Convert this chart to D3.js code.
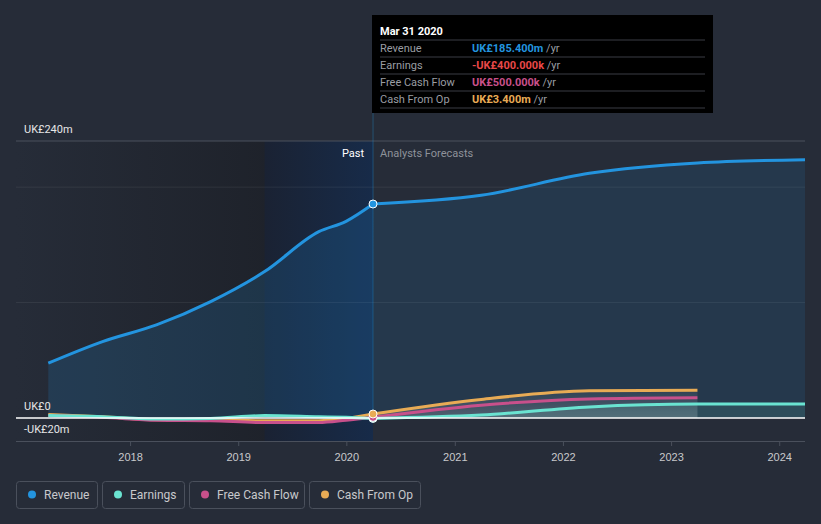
<!DOCTYPE html>
<html><head><meta charset="utf-8">
<script src="https://cdn.jsdelivr.net/npm/d3@7/dist/d3.min.js"></script>
<style>body{margin:0;background:#262c38;}svg{display:block;font-family:Roboto,"Noto Sans",sans-serif;}</style>
</head><body><svg id="c" width="821" height="524"></svg>
<script>
const revenueDates = ["2017-03-31","2017-09-30","2018-03-31","2018-09-30","2019-03-31","2019-09-30","2019-12-31","2020-03-31"];
const revenuePast = [47.4, 66.1, 80.6, 100.8, 126.8, 161.4, 170.4, 185.4];
const forecastDates = ["2020-03-31","2021-03-31","2022-03-31","2023-03-31","2024-03-31"];
const revenueForecast = [185.4, 193, 212, 221, 223.8];
const earningsPast = [2, 1, -1, -0.5, 2, 1, 0.5, -0.4];
const fcfPast = [2, 0.5, -2, -2.5, -4, -4, -2, 0.5];
const cfoPast = [3, 1, -1.5, -1.5, -2.5, -2.5, -0.5, 3.4];
const earningsForecast = [-0.4, 2.5, 9.5, 12, 12];
const fcfForecast = [0.5, 11, 16.5, 17.5];
const cfoForecast = [3.4, 16, 23.5, 24];
const yTicks = [240, 0, -20];
const yTickLabels = ["UK£240m", "UK£0", "-UK£20m"];
const xTickYears = [2018, 2019, 2020, 2021, 2022, 2023, 2024];
const seriesNames = ["Revenue", "Earnings", "Free Cash Flow", "Cash From Op"];
const seriesColors = ["#2394df", "#6ae3d1", "#c8508b", "#e8ab55"];
const tooltipValues = ["UK£185.400m", "-UK£400.000k", "UK£500.000k", "UK£3.400m"];
const tooltipValueColors = ["#2394df", "#e84848", "#c8508b", "#e8ab55"];

const P = d3.timeParse("%Y-%m-%d");
const svg = d3.select("#c");
const W = 821;
const x = d3.scaleTime().domain([P("2016-12-12"), P("2024-03-28")]).range([16, 805]);
const y = d3.scaleLinear().domain([-20, 240]).range([441, 141]);
const nowD = P("2020-03-31");
const xNow = x(nowD);
const xPastStart = x(P("2019-03-31"));

const defs = svg.append("defs");
const g1 = defs.append("linearGradient").attr("id","pastg").attr("x1","0").attr("x2","1").attr("y1","0").attr("y2","0");
g1.append("stop").attr("offset","0").attr("stop-color","#262c38");
g1.append("stop").attr("offset","1").attr("stop-color","#1b1e25");
const g2 = defs.append("linearGradient").attr("id","hlg").attr("x1","0").attr("x2","1").attr("y1","0").attr("y2","0");
g2.append("stop").attr("offset","0").attr("stop-color","#1a2233");
g2.append("stop").attr("offset","1").attr("stop-color","#172b49");
const g3 = defs.append("linearGradient").attr("id","smallg").attr("x1","0").attr("x2","0").attr("y1","0").attr("y2","1");
g3.append("stop").attr("offset","0").attr("stop-color","#ffffff").attr("stop-opacity",0.05);
g3.append("stop").attr("offset","1").attr("stop-color","#ffffff").attr("stop-opacity",0.2);
defs.append("clipPath").attr("id","clip").append("rect").attr("x",16).attr("y",100).attr("width",789).attr("height",341);

svg.append("rect").attr("width",W).attr("height",524).attr("fill","#262c38");
// past background
svg.append("rect").attr("x",16).attr("y",y(240)).attr("width",xNow-16).attr("height",y(-20)-y(240)).attr("fill","url(#pastg)");
svg.append("rect").attr("x",xPastStart).attr("y",y(240)).attr("width",xNow-xPastStart).attr("height",y(-20)-y(240)).attr("fill","url(#hlg)");

// gridlines
[240, 200, 100].forEach(v=>{
  svg.append("line").attr("x1",16).attr("x2",805).attr("y1",y(v)).attr("y2",y(v))
    .attr("stroke", v===240 ? "#4a505c" : "#ffffff").attr("stroke-opacity", v===240 ? 1 : 0.07).attr("stroke-width",1);
});

const plot = svg.append("g").attr("clip-path","url(#clip)");
const curve = d3.curveMonotoneX;
const pastPts = (vals)=>revenueDates.map((d,i)=>[P(d), vals[i]]);
const fcPts = (vals)=>vals.map((v,i)=>[P(forecastDates[i]), v]);
const line = d3.line().x(d=>x(d[0])).y(d=>y(d[1])).curve(curve);
const area = d3.area().x(d=>x(d[0])).y0(y(0)).y1(d=>y(d[1])).curve(curve);

// revenue areas
plot.append("path").datum(pastPts(revenuePast)).attr("d",area).attr("fill","#2394df").attr("fill-opacity",0.17);
plot.append("path").datum(fcPts(revenueForecast)).attr("d",area).attr("fill","#2394df").attr("fill-opacity",0.12);
// small series forecast areas
plot.append("path").datum(fcPts(cfoForecast)).attr("d",area).attr("fill","url(#smallg)");
plot.append("path").datum(fcPts(earningsForecast)).attr("d",area).attr("fill","#6ae3d1").attr("fill-opacity",0.12);

// vertical now line
svg.append("line").attr("x1",xNow).attr("x2",xNow).attr("y1",113).attr("y2",y(0)).attr("stroke","#2394df").attr("stroke-opacity",0.35);

// zero line and bottom axis
svg.append("line").attr("x1",16).attr("x2",805).attr("y1",y(0)).attr("y2",y(0)).attr("stroke","#ffffff").attr("stroke-width",1.5);
const xa = svg.append("g").attr("transform",`translate(0,${y(-20)})`)
  .call(d3.axisBottom(x).tickValues(xTickYears.map(yr=>new Date(yr,0,1))).tickFormat(d3.timeFormat("%Y")).tickSize(5).tickSizeOuter(0));
xa.select(".domain").attr("stroke","#4a505c").attr("d","M16,0.5H805");
xa.selectAll(".tick line").attr("stroke","#4a505c");
xa.selectAll(".tick text").attr("fill","#c8c9cc").attr("font-size",11).attr("dy","1.05em");

// lines
const lineSeries = [
  [pastPts(cfoPast), fcPts(cfoForecast), seriesColors[3]],
  [pastPts(fcfPast), fcPts(fcfForecast), seriesColors[2]],
  [pastPts(earningsPast), fcPts(earningsForecast), seriesColors[1]],
  [pastPts(revenuePast), fcPts(revenueForecast), seriesColors[0]]
];
lineSeries.forEach(([p,f,c])=>{
  plot.append("path").datum(p).attr("d",line).attr("fill","none").attr("stroke",c).attr("stroke-width",3);
  plot.append("path").datum(f).attr("d",line).attr("fill","none").attr("stroke",c).attr("stroke-width",3);
});

// dots at now
[[-0.4,seriesColors[1]],[0.5,seriesColors[2]],[3.4,seriesColors[3]],[185.4,seriesColors[0]]].forEach(([v,c])=>{
  svg.append("circle").attr("cx",xNow).attr("cy",y(v)).attr("r",4).attr("fill",c).attr("stroke","#ffffff").attr("stroke-width",1);
});

// y labels
yTicks.forEach((v,i)=>{
  svg.append("text").attr("x",24).attr("y",y(v)-8).attr("fill","#e6e6e6").attr("font-size",11).text(yTickLabels[i]);
});

// past / forecast labels
svg.append("text").attr("x",xNow-9).attr("y",157).attr("text-anchor","end").attr("fill","#ffffff").attr("font-size",11).text("Past");
svg.append("text").attr("x",xNow+7).attr("y",157).attr("fill","#8e929a").attr("font-size",11).text("Analysts Forecasts");

// tooltip
const tt = svg.append("g").attr("transform","translate(372,15)");
tt.append("rect").attr("width",341).attr("height",98).attr("fill","#000000");
tt.append("text").attr("x",8).attr("y",20).attr("fill","#ffffff").attr("font-size",11).attr("font-weight","bold").text("Mar 31 2020");
[25,42,59,76,93].forEach(ly=>tt.append("line").attr("x1",8).attr("x2",333).attr("y1",ly).attr("y2",ly).attr("stroke","#3a3d44"));
seriesNames.forEach((n,i)=>{
  const ty = 37 + i*17;
  tt.append("text").attr("x",8).attr("y",ty).attr("fill","#9a9da3").attr("font-size",11).text(n);
  const t = tt.append("text").attr("x",100).attr("y",ty).attr("font-size",11);
  t.append("tspan").attr("fill",tooltipValueColors[i]).attr("font-weight","bold").text(tooltipValues[i]);
  t.append("tspan").attr("fill","#9a9da3").text(" /yr");
});

// legend
const legX = [16, 102, 189, 309];
const legW = [81, 82, 115, 111];
seriesNames.forEach((n,i)=>{
  const lg = svg.append("g").attr("transform",`translate(${legX[i]},481)`);
  lg.append("rect").attr("x",0.5).attr("y",0.5).attr("width",legW[i]).attr("height",27).attr("rx",3).attr("fill","none").attr("stroke","#4a505c");
  lg.append("circle").attr("cx",16).attr("cy",13.5).attr("r",4).attr("fill",seriesColors[i]);
  lg.append("text").attr("x",28).attr("y",17.5).attr("fill","#c8c9cc").attr("font-size",12).text(n);
});
</script></body></html>
